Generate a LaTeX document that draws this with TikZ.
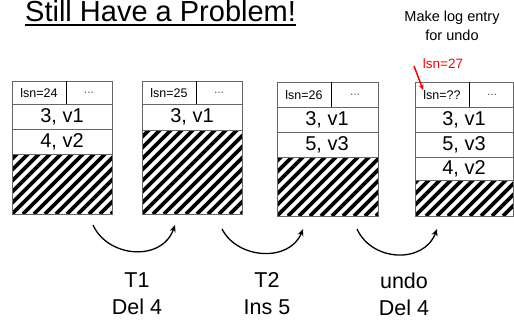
\documentclass[tikz,border=0pt]{standalone}
\usepackage{fontspec}
\setmainfont{Liberation Sans}
\usetikzlibrary{arrows.meta,calc}
\tikzset{
  cellbox/.style={draw=gray!80!black, line width=0.8pt},
  celltxt/.style={font=\fontsize{20}{20}\selectfont, inner sep=0pt},
  hdrtxt/.style={font=\fontsize{12.5}{12.5}\selectfont, inner sep=0pt},
  dots/.style={font=\fontsize{12}{12}\selectfont, text=gray!70!black, inner sep=0pt},
  hatch/.style={line width=3.6pt, black},
  curvearrow/.style={line width=1.3pt, -{Stealth[length=7pt,width=6pt]}},
  lbl/.style={font=\fontsize{21.5}{26.5}\selectfont, align=center, inner sep=0pt, anchor=base},
}
\newcommand{\hatchrect}[4]{%
  \begin{scope}
    \clip (#1,#2) rectangle (#3,#4);
    \fill[white] (#1,#2) rectangle (#3,#4);
    \foreach \k in {-12,...,12} {
      \draw[hatch] ({#1+11*\k},#4) -- ++(120,-120);
    }
  \end{scope}
  \draw[cellbox] (#1,#2) rectangle (#3,#4);
}
\begin{document}
\begin{tikzpicture}[x=1pt,y=-1pt]
\useasboundingbox (0,0) rectangle (514,322);
\fill[white] (0,0) rectangle (514,322);

% title
\node[anchor=base west, inner sep=0pt, font=\fontsize{29}{29}\selectfont] (title) at (25,21.5) {Still Have a Problem!};
\draw[line width=2pt] ($(title.base west)+(0,3.8)$) -- ($(title.base east)+(0,3.8)$);

% note
\node[align=center, inner sep=0pt, font=\fontsize{14.5}{19}\selectfont, anchor=north] (note) at (452,11) {Make log entry\\for undo};

% Box 1
\draw[cellbox] (12,81) rectangle (112,104);
\draw[black, line width=0.8pt] (66,81) -- (66,104);
\node[hdrtxt] (h1) at (39,93) {lsn=24};
\node[dots] (d1) at (89,93) {...};
\draw[cellbox] (12,104) rectangle (112,129);
\node[celltxt] (b1r1) at (62,117) {3, v1};
\draw[cellbox] (12,129) rectangle (112,154);
\node[celltxt] (b1r2) at (62,142) {4, v2};
\hatchrect{12}{154}{112}{214}
\coordinate (b1) at (93,225);

% Box 2
\draw[cellbox] (142,81) rectangle (242,104);
\draw[black, line width=0.8pt] (196,81) -- (196,104);
\node[hdrtxt] (h2) at (169,93) {lsn=25};
\node[dots] (d2) at (219,93) {...};
\draw[cellbox] (142,104) rectangle (242,130);
\node[celltxt] (b2r1) at (192,117) {3, v1};
\hatchrect{142}{130}{242}{214}
\coordinate (b2in) at (175,225);
\coordinate (b2out) at (222,229);

% Box 3
\draw[cellbox] (277,82) rectangle (378,107);
\draw[black, line width=0.8pt] (331,82) -- (331,107);
\node[hdrtxt] (h3) at (304,95) {lsn=26};
\node[dots] (d3) at (355,95) {...};
\draw[cellbox] (277,107) rectangle (378,132);
\node[celltxt] (b3r1) at (327,120) {3, v1};
\draw[cellbox] (277,132) rectangle (378,157);
\node[celltxt] (b3r2) at (327,145) {5, v3};
\hatchrect{277}{157}{378}{216}
\coordinate (b3in) at (303,229);
\coordinate (b3out) at (357,229);

% Box 4
\draw[cellbox] (415,82) rectangle (513.5,107);
\draw[black, line width=0.8pt] (469,82) -- (469,107);
\node[hdrtxt] (h4) at (442,95) {lsn=??};
\node[dots] (d4) at (492,95) {...};
\draw[cellbox] (415,107) rectangle (513.5,132);
\node[celltxt] (b4r1) at (464,120) {3, v1};
\draw[cellbox] (415,132) rectangle (513.5,157);
\node[celltxt] (b4r2) at (464,145) {5, v3};
\draw[cellbox] (415,157) rectangle (513.5,180);
\node[celltxt] (b4r3) at (464,169) {4, v2};
\hatchrect{415}{180}{513.5}{216}
\coordinate (b4in) at (437,229);

% red annotation
\node[text=red, inner sep=0pt, anchor=base, font=\fontsize{13.5}{13.5}\selectfont] (lsn27) at (443,68) {lsn=27};
\coordinate (redstart) at (414,66);
\draw[red, line width=1.5pt, -{Stealth[length=6pt,width=5pt]}] (redstart) -- (h4.north west);

% curved arrows
\draw[curvearrow] (b1) .. controls (108,258) and (162,262) .. (b2in);
\draw[curvearrow] (b2out) .. controls (238,260) and (290,262) .. (b3in);
\draw[curvearrow] (b3out) .. controls (372,262) and (424,264) .. (b4in);

% labels
\node[lbl] (t1) at (137,314) {T1\\Del 4};
\node[lbl] (t2) at (267,314) {T2\\Ins 5};
\node[lbl] (t3) at (404,315) {undo\\Del 4};
\end{tikzpicture}
\end{document}
